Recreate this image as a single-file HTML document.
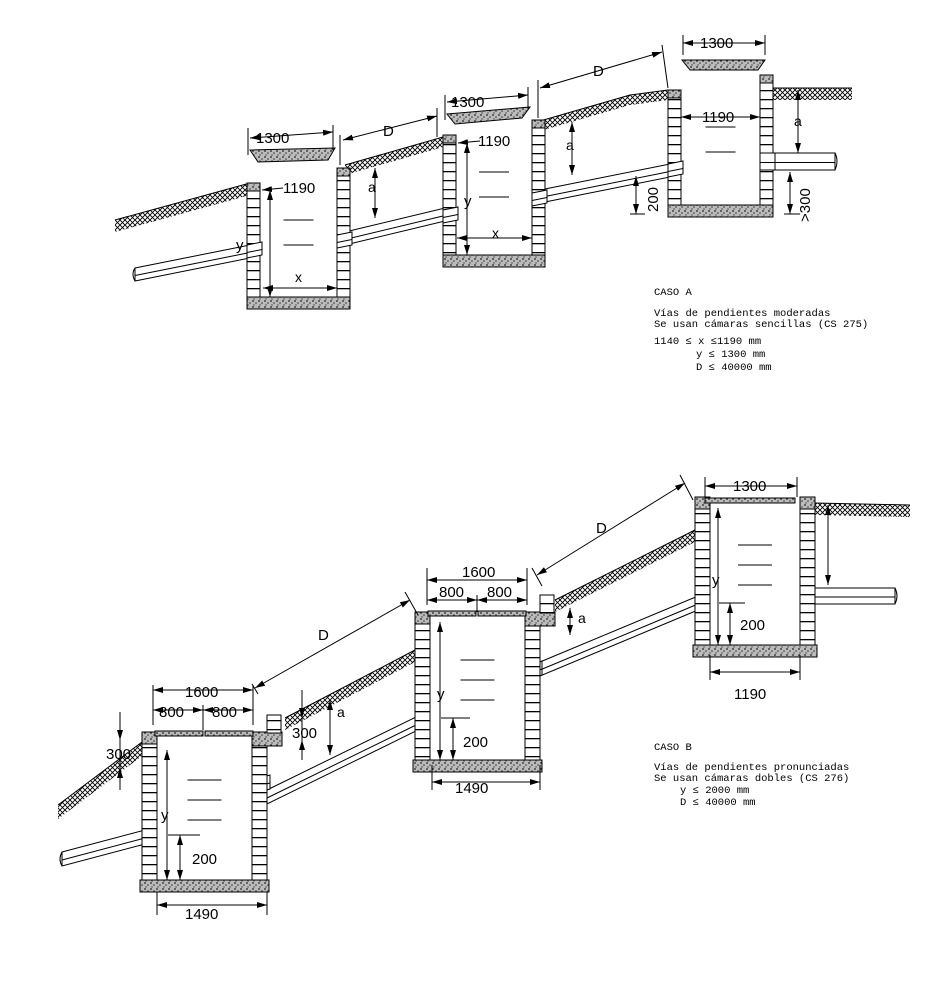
<!DOCTYPE html>
<html><head><meta charset="utf-8"><style>
html,body{margin:0;padding:0;background:#fff}
svg{display:block}
text{font-family:"Liberation Sans",sans-serif;fill:#000}
.m text{font-family:"Liberation Mono",monospace}
</style></head><body>
<svg id="s" width="950" height="1000" viewBox="0 0 950 1000" xmlns="http://www.w3.org/2000/svg">
<defs>
<pattern id="hatch" width="5" height="5" patternUnits="userSpaceOnUse">
<rect width="5" height="5" fill="#fff"/>
<path d="M0 5L5 0M0 0L5 5" stroke="#000" stroke-width="0.9"/>
</pattern>
<pattern id="conc" width="6" height="6" patternUnits="userSpaceOnUse">
<rect width="6" height="6" fill="#bbb"/>
<circle cx="1" cy="1" r="0.9" fill="#222"/><circle cx="4" cy="3" r="0.8" fill="#333"/><circle cx="2" cy="5" r="0.7" fill="#444"/>
</pattern>
<pattern id="brick" width="14" height="9" patternUnits="userSpaceOnUse">
<rect width="14" height="9" fill="#fff"/>
<path d="M0 0.5H14" stroke="#000" stroke-width="1.6"/>
</pattern>
<marker id="a" viewBox="0 0 10 6" refX="10" refY="3" markerWidth="10" markerHeight="6" orient="auto-start-reverse" markerUnits="userSpaceOnUse">
<path d="M0 0L10 3L0 6z" fill="#000"/>
</marker>
</defs>
<g id="g" stroke="#000" fill="none" stroke-width="1"></g>
<g font-size="15">
<text x="256" y="143">1300</text>
<text x="383" y="136">D</text>
<text x="283" y="193">1190</text>
<text x="368" y="192" font-size="14">a</text>
<text x="236" y="250">y</text>
<text x="295" y="282" font-size="14">x</text>
<text x="451" y="107">1300</text>
<text x="593" y="76">D</text>
<text x="478" y="146">1190</text>
<text x="566" y="150" font-size="14">a</text>
<text x="464" y="206">y</text>
<text x="492" y="238" font-size="14">x</text>
<text x="700" y="48">1300</text>
<text x="702" y="122">1190</text>
<text x="794" y="126" font-size="14">a</text>
<text transform="translate(658,212) rotate(-90)">200</text>
<text transform="translate(810,222) rotate(-90)">&gt;300</text>

<text x="733" y="491">1300</text>
<text x="596" y="533">D</text>
<text x="462" y="577">1600</text>
<text x="439" y="597">800</text>
<text x="487" y="597">800</text>
<text x="578" y="623" font-size="14">a</text>
<text x="712" y="585">y</text>
<text x="740" y="630">200</text>
<text x="734" y="699">1190</text>
<text x="437" y="699">y</text>
<text x="463" y="747">200</text>
<text x="455" y="793">1490</text>
<text x="318" y="640">D</text>
<text x="185" y="697">1600</text>
<text x="159" y="717">800</text>
<text x="212" y="717">800</text>
<text x="337" y="717" font-size="14">a</text>
<text x="292" y="738">300</text>
<text x="106" y="759">300</text>
<text x="161" y="820">y</text>
<text x="192" y="864">200</text>
<text x="185" y="919">1490</text>
</g>
<g class="m" font-size="10.5">
<text x="654" y="295">CASO A</text>
<text x="654" y="316">Vías de pendientes moderadas</text>
<text x="654" y="327">Se usan cámaras sencillas (CS 275)</text>
<text x="654" y="344">1140 ≤ x ≤1190 mm</text>
<text x="696" y="357">y ≤ 1300 mm</text>
<text x="696" y="370">D ≤ 40000 mm</text>
<text x="654" y="750">CASO B</text>
<text x="654" y="770">Vías de pendientes pronunciadas</text>
<text x="654" y="781">Se usan cámaras dobles  (CS 276)</text>
<text x="680" y="793">y ≤ 2000 mm</text>
<text x="680" y="805">D ≤ 40000 mm</text>
</g>
</svg>
<script>
const g=document.getElementById('g');let h='';
const P=(d,f,sw)=>h+=`<path d="${d}" fill="${f||'none'}" stroke-width="${sw||1}"/>`;
const R=(x,y,w,ht,f)=>h+=`<rect x="${x}" y="${y}" width="${w}" height="${ht}" fill="${f}"/>`;
const L=(x1,y1,x2,y2,a)=>h+=`<line x1="${x1}" y1="${y1}" x2="${x2}" y2="${y2}" ${a?'marker-start="url(#a)" marker-end="url(#a)"':''}/>`;
const A1=(x1,y1,x2,y2)=>h+=`<line x1="${x1}" y1="${y1}" x2="${x2}" y2="${y2}" marker-end="url(#a)"/>`;
function ground(pts,t){let top=pts.map(p=>p[0]+','+p[1]).join(' L');let bot=pts.slice().reverse().map(p=>p[0]+','+(p[1]+t)).join(' L');h+=`<path d="M${top} L${bot}Z" fill="url(#hatch)" stroke="none"/>`;P('M'+top);}
function pipe(x1,y1,x2,y2,t){P(`M${x1},${y1}L${x2},${y2}L${x2},${y2+t}L${x1},${y1+t}Z`,'#fff');L(x1,y1+t/2+1,x2,y2+t/2+1);}
function wall(x,y,w,ht){R(x,y,w,ht,'url(#brick)');}
// ===== CASE A =====
ground([[115,220],[250,183]],12);
ground([[345,165],[443,137]],10);
ground([[540,121],[630,95],[668,90]],10);
ground([[768,88],[852,88]],12);
pipe(135,268,250,245,13);P('M135,268q-4,6 0,13','none');
pipe(345,232,445,208,13);
pipe(540,190,670,164,13);
pipe(768,153,835,153,17);P('M835,153q4,8 0,17');
[[247,260,337,350,188,297],[443,456,532,545,140,255],[668,681,760,773,95,205]].forEach(c=>{
 wall(c[0],c[4],13,c[5]-c[4]);wall(c[2],c[4]-15,13,c[5]-c[4]+15);
 R(c[0],c[5],c[3]-c[0],12,'url(#conc)');R(c[0],c[4]-5,13,8,'url(#conc)');R(c[2],c[4]-20,13,8,'url(#conc)');
 let mx=(c[1]+c[2])/2;L(mx-15,220+(c[4]-188),mx+15,220+(c[4]-188));L(mx-15,245+(c[4]-188),mx+15,245+(c[4]-188));
});
pipe(247,245,262,242,13);pipe(337,235,352,232,13);pipe(443,210,458,207,13);pipe(532,193,547,190,13);pipe(668,164,683,161,13);pipe(760,153,775,153,17);
P('M250,150L335,148L328,160L258,162Z','url(#conc)');
P('M447,114L530,107L522,118L455,124Z','url(#conc)');
P('M682,60L765,60L758,70L690,70Z','url(#conc)');
L(248,155,248,128);L(333,150,333,125);L(250,138,333,132,1);
L(340,165,340,135);L(437,137,437,108);L(343,140,437,116,1);
L(445,120,445,95);L(528,110,528,87);L(447,102,528,95,1);
L(538,118,538,80);L(668,88,662,45);L(540,88,662,52,1);
L(683,55,683,35);L(765,55,765,35);L(683,43,765,43,1);
A1(283,188,262,190);A1(480,141,458,143);L(681,117,760,117,1);
L(375,168,375,218,1);L(572,122,572,175,1);L(798,90,798,153,1);
L(270,190,270,297,1);L(467,143,467,255,1);L(263,288,337,288,1);L(457,238,532,238,1);
L(636,176,636,214,1);L(630,214,645,214);L(790,172,790,214,1);L(784,214,800,214);
// ===== CASE B =====
ground([[58,805],[142,742]],14);
ground([[285,718],[415,650]],12);
ground([[555,600],[695,530]],12);
ground([[815,503],[910,505]],12);
pipe(62,852,145,830,14);P('M62,852q-4,7 0,14');
pipe(267,790,418,716,14);pipe(252,780,270,775,14);
pipe(540,662,698,596,14);pipe(525,668,542,661,14);
pipe(800,588,895,588,16);P('M895,588q4,8 0,16');
[[142,157,252,267,740,880],[415,430,525,540,620,760],[695,710,800,815,505,645]].forEach((c,i)=>{
 wall(c[0],c[4],15,c[5]-c[4]);wall(c[2],c[4],15,c[5]-c[4]);
 R(c[0]-2,c[5],c[3]-c[0]+4,12,'url(#conc)');R(c[0],c[4]-8,15,12,'url(#conc)');
 if(i<2){R(c[2],c[4]-8,30,14,'url(#conc)');R(c[2]+15,c[4]-25,14,18,'url(#brick)');}else R(c[2],c[4]-8,15,12,'url(#conc)');
 let mx=(c[1]+c[2])/2;[40,60,80].forEach(d=>L(mx-17,c[4]+d,mx+17,c[4]+d));
});
R(155,731,48,5,'url(#conc)');R(205,731,48,5,'url(#conc)');
R(428,611,48,5,'url(#conc)');R(478,611,48,5,'url(#conc)');
R(705,498,90,5,'url(#conc)');
L(153,725,153,685);L(253,725,253,685);L(153,690,253,690,1);L(153,710,203,710,1);L(203,710,253,710,1);L(203,705,203,730);
L(427,605,427,568);L(527,605,527,568);L(427,580,527,580,1);L(427,600,477,600,1);L(477,600,527,600,1);L(477,595,477,612);
L(705,497,705,477);L(797,497,797,477);L(705,486,797,486,1);
L(255,688,410,600,1);L(252,684,258,694);L(405,592,418,615);
L(537,575,685,483,1);L(532,568,542,586);L(680,475,693,500);
L(167,750,167,880,1);L(180,835,180,880,1);L(168,835,200,835);
L(440,622,440,760,1);L(453,718,453,760,1);L(441,718,470,718);
L(718,508,718,645,1);L(730,603,730,645,1);L(719,603,745,603);
L(432,782,540,782,1);L(432,765,432,790);L(540,765,540,790);
L(157,905,267,905,1);L(157,892,157,915);L(267,892,267,915);
L(710,672,800,672,1);L(710,655,710,680);L(800,655,800,680);
L(570,608,570,635,1);L(828,505,828,585,1);L(330,700,330,755,1);
L(302,698,302,748);A1(302,690,302,718);A1(302,760,302,740);
L(120,712,120,776);A1(120,712,120,740);A1(120,790,120,768);
g.innerHTML=h;
</script>
</body></html>
